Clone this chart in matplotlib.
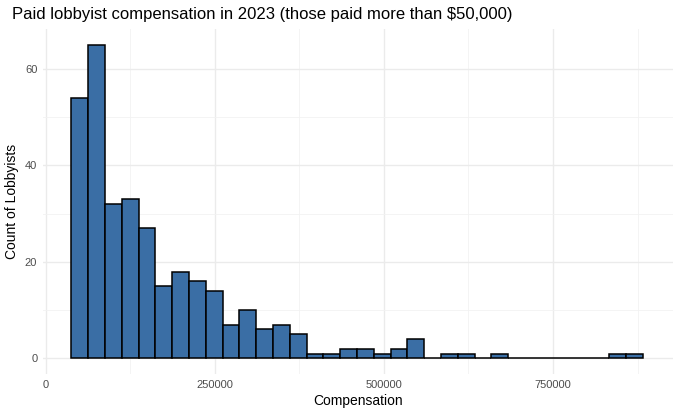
import numpy as np
import matplotlib
matplotlib.use("Agg")
import matplotlib.pyplot as plt
from matplotlib.ticker import MultipleLocator

# histogram counts, one per bin (left to right)
counts = [54, 65, 32, 33, 27, 15, 18, 16, 14, 7, 10, 6, 7, 5,
          1, 1, 2, 2, 1, 2, 4, 0, 1, 1, 0, 1, 0, 0, 0, 0, 0, 0, 1, 1]
bin_start = 38200
bin_width = 24830
x_ticks = [0, 250000, 500000, 750000]
y_ticks = [0, 20, 40, 60]

edges = bin_start + bin_width * np.arange(len(counts) + 1)
mids = edges[:-1] + bin_width / 2

plt.rcParams['font.family'] = ['Liberation Sans', 'DejaVu Sans']

fig = plt.figure(figsize=(6.8, 4.13), dpi=100)
ax = fig.add_axes([0.063, 0.0944, 0.926, 0.835])

ax.hist(mids, bins=edges, weights=counts, color='#3A6EA5',
        edgecolor='black', linewidth=1.1, zorder=3)

ax.set_xlim(-4000, edges[-1] * 1.05)
ax.set_ylim(-0.05 * max(counts), max(counts) * 1.05)

ax.set_xticks(x_ticks)
ax.set_xticklabels([str(t) for t in x_ticks])
ax.set_yticks(y_ticks)
ax.xaxis.set_minor_locator(MultipleLocator(125000))
ax.yaxis.set_minor_locator(MultipleLocator(10))

# ggplot minimal-style grid
ax.grid(which='major', color='#EBEBEB', linewidth=1.0, zorder=0)
ax.grid(which='minor', color='#F2F2F2', linewidth=0.6, zorder=0)
ax.set_axisbelow(True)
for s in ax.spines.values():
    s.set_visible(False)
ax.tick_params(which='both', length=0, labelsize=8, labelcolor='#4D4D4D', pad=4)

ax.set_xlabel('Compensation', fontsize=10, labelpad=3)
ax.set_ylabel('Count of Lobbyists', fontsize=10, labelpad=4)
fig.text(0.018, 0.965, 'Paid lobbyist compensation in 2023 (those paid more than \\$50,000)',
         fontsize=12, ha='left', va='center')

fig.savefig('out.png', dpi=100)
